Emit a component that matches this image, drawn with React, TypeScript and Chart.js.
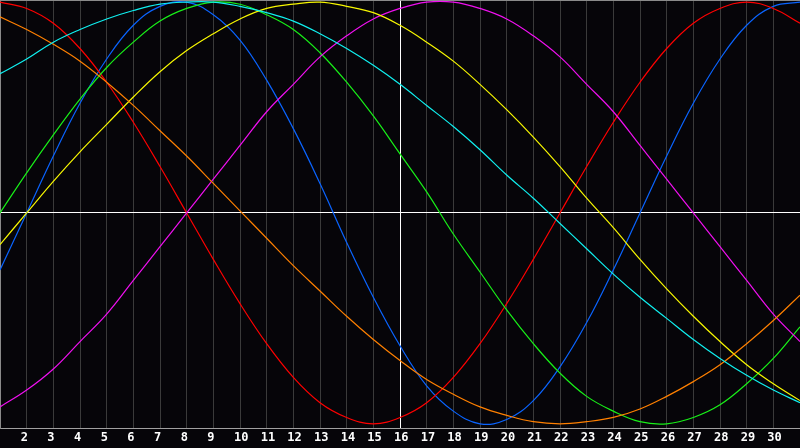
import React, { useEffect, useRef } from 'react';
import { Chart, registerables } from 'chart.js';

Chart.register(...registerables);

// days of the month shown on the x axis (first and last have no label)
const days = [1, 2, 3, 4, 5, 6, 7, 8, 9, 10, 11, 12, 13, 14, 15, 16, 17, 18, 19, 20, 21, 22, 23, 24, 25, 26, 27, 28, 29, 30, 31];

// cycle values in percent
const physical = [-27, 0, 27, 52, 73, 89, 98, 100, 94, 82, 63, 40, 14, -14, -40, -63, -82, -94, -100, -98, -89, -73, -52, -27, 0, 27, 52, 73, 89, 98, 100];
const emotional = [100, 97, 90, 78, 62, 43, 22, 0, -22, -43, -62, -78, -90, -97, -100, -97, -90, -78, -62, -43, -22, 0, 22, 43, 62, 78, 90, 97, 100, 97, 90];
const intellectual = [0, 19, 37, 54, 69, 81, 91, 97, 100, 99, 94, 87, 76, 62, 46, 28, 10, -10, -28, -46, -62, -76, -87, -94, -99, -100, -97, -91, -81, -69, -54];
const intuitive = [-92, -84, -74, -61, -48, -32, -16, 0, 16, 32, 48, 61, 74, 84, 92, 97, 100, 100, 97, 92, 84, 74, 61, 48, 32, 16, 0, -16, -32, -48, -61];
const aesthetic = [-15, 0, 15, 29, 42, 55, 67, 77, 85, 92, 97, 99, 100, 98, 95, 89, 81, 72, 61, 49, 36, 22, 7, -7, -22, -36, -49, -61, -72, -81, -89];
const awareness = [93, 87, 80, 72, 62, 51, 39, 27, 14, 1, -12, -25, -37, -49, -60, -70, -79, -86, -92, -96, -99, -100, -99, -97, -93, -87, -80, -72, -62, -51, -39];
const spiritual = [66, 73, 81, 87, 92, 96, 99, 100, 100, 98, 95, 91, 85, 78, 70, 61, 51, 41, 30, 18, 7, -5, -17, -29, -40, -50, -60, -69, -77, -84, -90];

const todayIndex = 15;

const App: React.FC = () => {
    const canvasRef = useRef<HTMLCanvasElement | null>(null);

    useEffect(() => {
        if (!canvasRef.current) return;

        const line = (data: number[], color: string) => ({
            data,
            borderColor: color,
            borderWidth: 1.2,
            pointRadius: 0,
            tension: 0.4,
            fill: false,
        });

        const chart = new Chart(canvasRef.current, {
            type: 'line',
            data: {
                labels: days.map(String),
                datasets: [
                    line(spiritual, '#10f0f0'),
                    line(awareness, '#ff8000'),
                    line(aesthetic, '#f8f800'),
                    line(intuitive, '#f010f0'),
                    line(intellectual, '#18f018'),
                    line(emotional, '#ff0000'),
                    line(physical, '#0a64ff'),
                ],
            },
            options: {
                responsive: false,
                animation: false,
                layout: { padding: 0 },
                plugins: {
                    legend: { display: false },
                    tooltip: { enabled: false },
                },
                scales: {
                    x: {
                        type: 'category',
                        offset: false,
                        border: { display: true, color: '#a0a0a0', width: 1 },
                        grid: {
                            drawTicks: false,
                            color: (ctx) => {
                                if (ctx.index === todayIndex) return '#ffffff';
                                if (ctx.index === 0) return '#8a8a8a';
                                if (ctx.index === days.length - 1) return 'rgba(0,0,0,0)';
                                return '#3a3a3a';
                            },
                        },
                        ticks: {
                            autoSkip: false,
                            maxRotation: 0,
                            align: 'start',
                            labelOffset: -6,
                            // padding is also added to the sides of the plot, so keep it 0 and use line height instead
                            padding: 0,
                            color: '#ffffff',
                            font: { family: "'DejaVu Sans Mono'", size: 12, weight: 'bold', lineHeight: '20px' },
                            callback: (_v, i) => (i === 0 || i === days.length - 1 ? '' : String(days[i])),
                        },
                    },
                    y: {
                        min: -102,
                        max: 101,
                        afterBuildTicks: (scale) => {
                            scale.ticks = [{ value: -102 }, { value: 0 }, { value: 101 }];
                        },
                        border: { display: true, color: '#8a8a8a', width: 1 },
                        grid: {
                            drawTicks: false,
                            color: (ctx) => (ctx.tick && ctx.tick.value === 0 ? '#ffffff' : '#8a8a8a'),
                        },
                        ticks: { display: false },
                    },
                },
            },
        });

        return () => {
            chart.destroy();
        };
    }, []);

    return (
        <div style={{ position: 'fixed', left: 0, top: 0, width: 800, height: 448, background: '#060509' }}>
            <canvas ref={canvasRef} width={800} height={448} style={{ display: 'block' }} />
        </div>
    );
};

export default App;
